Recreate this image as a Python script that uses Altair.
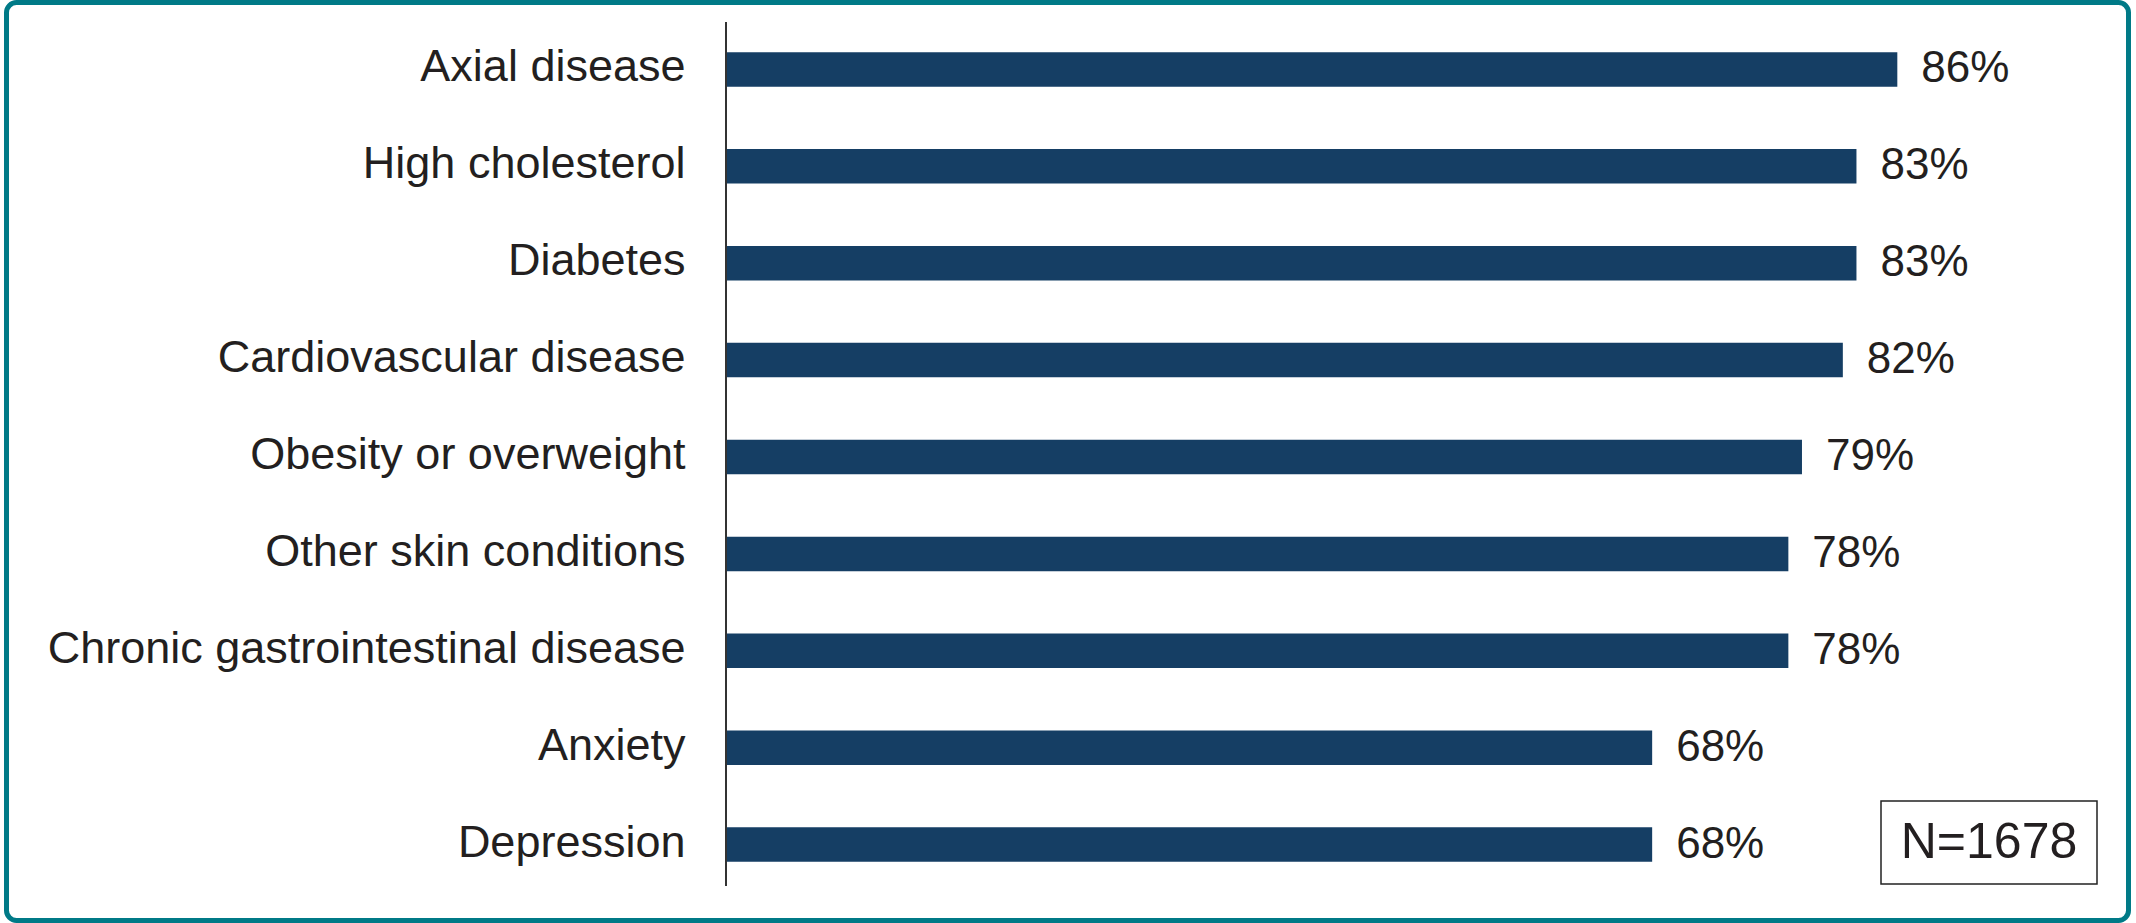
import altair as alt
import pandas as pd

# Share of respondents per comorbidity
conditions = [
    "Axial disease",
    "High cholesterol",
    "Diabetes",
    "Cardiovascular disease",
    "Obesity or overweight",
    "Other skin conditions",
    "Chronic gastrointestinal disease",
    "Anxiety",
    "Depression",
]
percentages = [86, 83, 83, 82, 79, 78, 78, 68, 68]
sample_note = "N=1678"

df = pd.DataFrame({"condition": conditions, "pct": percentages})

BAR = "#153E64"
TEXT = "#231F20"
FRAME = "#007A87"
FONT = "Liberation Sans"

W, H = 1362, 872

x_scale = alt.Scale(domain=[0, 100], nice=False, zero=True)
y_enc = alt.Y(
    "condition:N",
    sort=conditions,
    scale=alt.Scale(paddingInner=0.644, paddingOuter=0.322),
    axis=alt.Axis(
        title=None, ticks=False, domain=False, grid=False,
        labelFontSize=45, labelFont=FONT, labelColor=TEXT,
        labelPadding=41, labelLimit=0, labelOffset=-2,
    ),
)

bars = alt.Chart(df).mark_bar(color=BAR).encode(
    x=alt.X("pct:Q", scale=x_scale, axis=None),
    y=y_enc,
)

values = alt.Chart(df).transform_calculate(
    label="datum.pct + '%'"
).mark_text(
    align="left", baseline="middle", dx=24, fontSize=44, font=FONT, color=TEXT
).encode(
    x=alt.X("pct:Q", scale=x_scale),
    y=alt.Y("condition:N", sort=conditions),
    text="label:N",
)

# vertical axis line along the category axis
axis_line = alt.Chart(df).mark_rule(color="#333333", strokeWidth=2).encode(
    x=alt.value(0), y=alt.value(1), y2=alt.value(865)
).transform_filter("datum.condition == 'Axial disease'")

note_df = pd.DataFrame({"note": [sample_note]})
note_box = alt.Chart(note_df).mark_rect(
    fill="white", stroke="#222222", strokeWidth=1.5
).encode(
    x=alt.value(1155), x2=alt.value(1371), y=alt.value(780), y2=alt.value(863)
)
note_text = alt.Chart(note_df).mark_text(
    fontSize=50, font=FONT, color=TEXT, align="center", baseline="middle"
).encode(
    x=alt.value(1263), y=alt.value(822), text="note:N"
)

frame = alt.Chart(note_df).mark_rect(
    fillOpacity=0, stroke=FRAME, strokeWidth=5, cornerRadius=10
).encode(
    x=alt.value(-719.5), x2=alt.value(1402.5), y=alt.value(-18.5), y2=alt.value(899.5)
)

chart = alt.layer(bars, values, axis_line, note_box, note_text, frame).properties(
    width=W,
    height=H,
    padding={"left": 726, "top": 21, "right": 48, "bottom": 30},
    autosize=alt.AutoSizeParams(type="none"),
    background="white",
).configure_view(stroke=None)

chart.save("out.html", embed_options={"renderer": "svg", "actions": False})
